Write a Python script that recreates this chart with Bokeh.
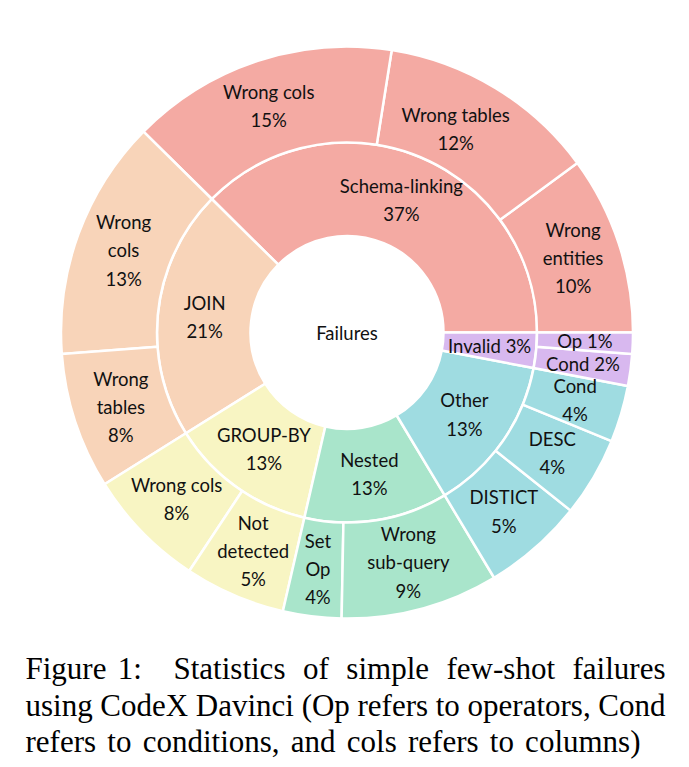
import math
from bokeh.plotting import figure
from bokeh.models import Range1d, ColumnDataSource
from bokeh.core.properties import value
from bokeh.embed import file_html
from bokeh.resources import INLINE

# ---------------- data ----------------
root_label = "Failures"

groups = ["Schema-linking", "JOIN", "GROUP-BY", "Nested", "Other", "Invalid"]
group_values = [37.6, 21.3, 12.5, 12.2, 13.4, 3.0]
group_pct = ["37%", "21%", "13%", "13%", "13%", "3%"]
group_colors = ["#F4AAA3", "#F8D4B9", "#F8F5C3", "#A9E5CB", "#9FDCE1", "#D8B8EF"]

sub_parent = ["Schema-linking", "Schema-linking", "Schema-linking",
              "JOIN", "JOIN",
              "GROUP-BY", "GROUP-BY",
              "Nested", "Nested",
              "Other", "Other", "Other",
              "Invalid", "Invalid"]
sub_names = ["Wrong entities", "Wrong tables", "Wrong cols",
             "Wrong cols", "Wrong tables",
             "Wrong cols", "Not detected",
             "Set Op", "Wrong sub-query",
             "DISTICT", "DESC", "Cond",
             "Cond", "Op"]
sub_values = [10.1, 12.4, 15.1,
              13.6, 7.7,
              6.8, 5.7,
              3.3, 8.9,
              5.7, 4.5, 3.2,
              1.8, 1.2]
sub_pct = ["10%", "12%", "15%", "13%", "8%", "8%", "5%", "4%", "9%",
           "5%", "4%", "4%", "2%", "1%"]

caption_lines = [
    "Figure 1:  Statistics of simple few-shot failures",
    "using CodeX Davinci (Op refers to operators, Cond",
    "refers to conditions, and cols refers to columns)",
]

# ---------------- layout ----------------
W, H = 681, 759
def X(px): return px
def Y(py): return H - py

cx, cy = X(346.5), Y(332)
r_hole, r_mid, r_out = 96.5, 190, 286

# how labels are broken into lines / small nudges
group_break = {"Invalid": " "}
sub_break = {0: ["Wrong", "entities"], 3: ["Wrong", "cols"], 4: ["Wrong", "tables"],
             6: ["Not", "detected"], 7: ["Set", "Op"], 8: ["Wrong", "sub-query"]}
single_line_sub = {12, 13}
sub_nudge = {1: (-15, 0), 2: (-4, 0)}

p = figure(width=W, height=H, x_range=Range1d(0, W), y_range=Range1d(0, H),
           output_backend="svg", toolbar_location=None, min_border=0)
p.axis.visible = False
p.grid.visible = False
p.outline_line_color = None
p.background_fill_color = "white"

total = sum(group_values)
TWO_PI = 2 * math.pi

# inner ring
g_start, g_end = [], []
acc = 0.0
for v in group_values:
    g_start.append(acc / total * TWO_PI)
    acc += v
    g_end.append(acc / total * TWO_PI)
color_of = dict(zip(groups, group_colors))

src_in = ColumnDataSource(dict(start=g_start, end=g_end, color=group_colors))
p.annular_wedge(x=cx, y=cy, inner_radius=r_hole, outer_radius=r_mid,
                start_angle="start", end_angle="end", fill_color="color",
                line_color="white", line_width=2.5, source=src_in)

# outer ring
s_start, s_end, s_color = [], [], []
acc = 0.0
for v, par in zip(sub_values, sub_parent):
    s_start.append(acc / total * TWO_PI)
    acc += v
    s_end.append(acc / total * TWO_PI)
    s_color.append(color_of[par])
src_out = ColumnDataSource(dict(start=s_start, end=s_end, color=s_color))
p.annular_wedge(x=cx, y=cy, inner_radius=r_mid, outer_radius=r_out,
                start_angle="start", end_angle="end", fill_color="color",
                line_color="white", line_width=2.5, source=src_out)

# labels
lx, ly, lt = [], [], []
rm_in = (r_hole + r_mid) / 2
for name, pct, a0, a1 in zip(groups, group_pct, g_start, g_end):
    a = (a0 + a1) / 2
    lx.append(cx + rm_in * math.cos(a))
    ly.append(cy + rm_in * math.sin(a))
    lt.append(name + group_break.get(name, "\n") + pct)
rm_out = (r_mid + r_out) / 2
for i, (name, pct, a0, a1) in enumerate(zip(sub_names, sub_pct, s_start, s_end)):
    a = (a0 + a1) / 2
    dx, dy = sub_nudge.get(i, (0, 0))
    lx.append(cx + rm_out * math.cos(a) + dx)
    ly.append(cy + rm_out * math.sin(a) + dy)
    if i in sub_break:
        lt.append("\n".join(sub_break[i]) + "\n" + pct)
    elif i in single_line_sub:
        lt.append(name + " " + pct)
    else:
        lt.append(name + "\n" + pct)
lx.append(cx); ly.append(cy); lt.append(root_label)

p.text(x="x", y="y", text="t", source=ColumnDataSource(dict(x=lx, y=ly, t=lt)),
       text_align="center", text_baseline="middle", text_font=value("Lato"),
       text_font_size="18.5px", text_color="#111111", text_line_height=1.28)

# caption (justified, word by word using Times metrics)
tw = {' ': 250, '(': 333, ')': 333, ',': 250, '-': 333, '.': 250, '1': 500, ':': 278,
      'C': 667, 'D': 722, 'F': 556, 'O': 722, 'S': 556, 'X': 722,
      'a': 444, 'b': 500, 'c': 444, 'd': 500, 'e': 444, 'f': 333, 'g': 500, 'h': 500,
      'i': 278, 'j': 278, 'k': 500, 'l': 278, 'm': 778, 'n': 500, 'o': 500, 'p': 500,
      'q': 500, 'r': 333, 's': 389, 't': 278, 'u': 500, 'v': 500, 'w': 722, 'x': 500,
      'y': 500, 'z': 444}
FS = 31
def width(w): return sum(tw.get(ch, 500) for ch in w) * FS / 1000.0

cap_left = 25
cap_rights = [665, 665, 640]
cap_mid = [668, 705, 741]
wx, wy, wt = [], [], []
for line, right, mid in zip(caption_lines, cap_rights, cap_mid):
    words = line.split()
    weights = [1.0] * (len(words) - 1)
    if words[0] == "Figure":
        weights[0], weights[1] = 0.65, 1.8
    free = (right - cap_left) - sum(width(w) for w in words)
    unit = free / sum(weights)
    xpos = cap_left
    for k, w in enumerate(words):
        wx.append(X(xpos)); wy.append(Y(mid)); wt.append(w)
        xpos += width(w)
        if k < len(weights):
            xpos += unit * weights[k]
p.text(x="x", y="y", text="t", source=ColumnDataSource(dict(x=wx, y=wy, t=wt)),
       text_align="left", text_baseline="middle",
       text_font=value("Liberation Serif"), text_font_size=f"{FS}px", text_color="black")

open("out.html", "w").write(file_html(p, INLINE))
